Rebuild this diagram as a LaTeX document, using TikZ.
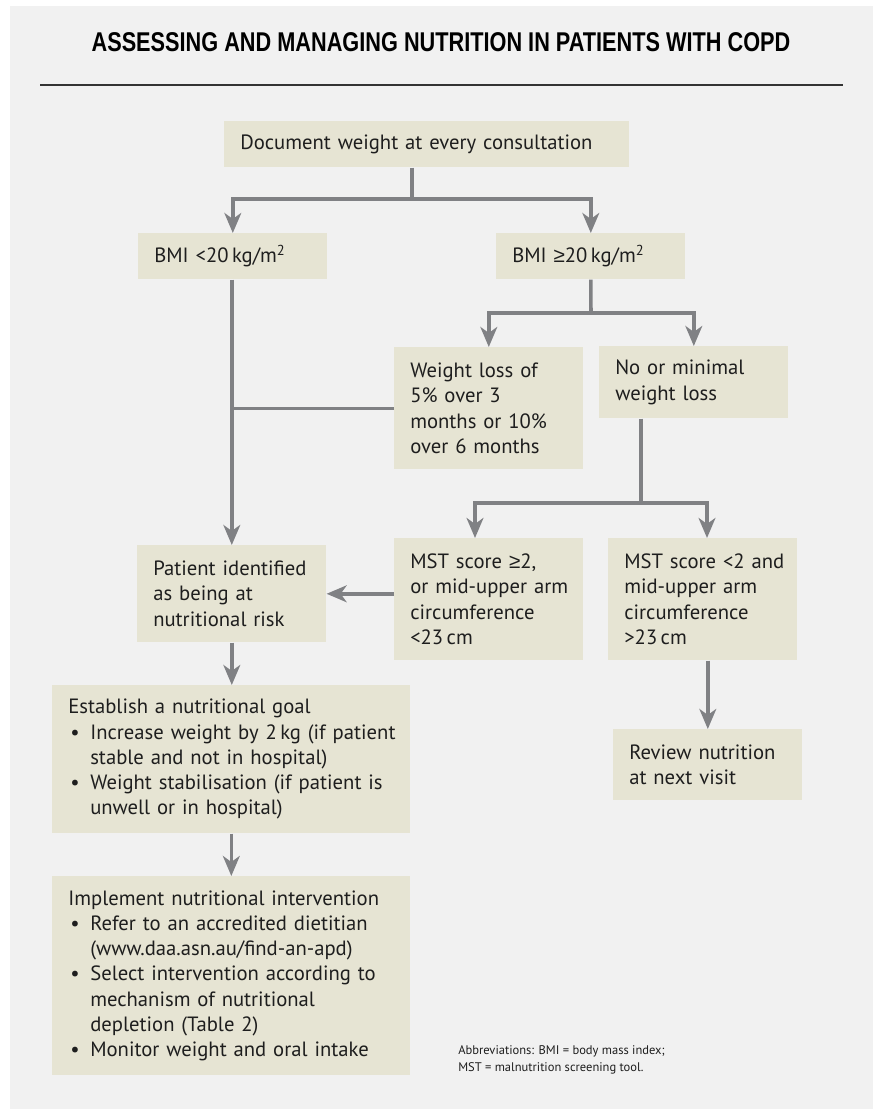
\documentclass[tikz,border=0pt]{standalone}
\usepackage{fontspec}
\setmainfont{PT Sans}
\newfontfamily\titlefont{Liberation Sans}[FakeStretch=0.8]
\newfontfamily\symfont{Liberation Sans}
\usetikzlibrary{arrows.meta}

\definecolor{panelgrey}{HTML}{F1F1F1}
\definecolor{boxfill}{HTML}{E6E4D3}
\definecolor{linkgrey}{HTML}{808184}
\definecolor{textdark}{HTML}{1E1E1E}
\definecolor{ruledark}{HTML}{333333}

\newcommand{\bul}{\makebox[0.55cm][l]{\hspace{1.5pt}\textbullet}}
\newcommand{\hang}{\hspace*{0.55cm}}
\newcommand{\geqs}{{\symfont ≥}}

\begin{document}
\begin{tikzpicture}[x=0.025cm,y=-0.025cm,
  box/.style={fill=boxfill,anchor=north west,align=left,inner xsep=0.4cm,
              inner ysep=0pt,font=\fontsize{14.7}{18}\selectfont,text=textdark},
  narrowbox/.style={box,text width=3.925cm},
  widebox/.style={box,text width=8.15cm},
  link/.style={draw=linkgrey,line width=2.5pt},
  arrow/.style={link,-{Stealth[length=0.5cm,width=0.42cm,inset=0.15cm]}},
  headline/.style={font=\titlefont\bfseries\fontsize{19.3}{22}\selectfont},
  note/.style={font=\fontsize{8.9}{12.5}\selectfont,align=left,
               anchor=north west,inner sep=0pt,text=textdark},
]
\useasboundingbox (0,0) rectangle (873,1109);
\fill[panelgrey] (10,6) rectangle (873,1109);

% === Heading ===
\node[headline] (title) at (441,42) {ASSESSING AND MANAGING NUTRITION IN PATIENTS WITH COPD};
\draw[ruledark,line width=1.4pt] (40,85) -- (843,85);

% === Boxes ===
\node[box,text width=9.325cm,minimum height=1.15cm] (doc) at (224,121)
  {Document weight at every consultation};

\node[narrowbox,minimum height=1.15cm] (bmilow) at (138,233) {BMI <20\,kg/m\textsuperscript{2}};
\node[narrowbox,minimum height=1.15cm] (bmihigh) at (496,233) {BMI \geqs20\,kg/m\textsuperscript{2}};

\node[narrowbox,minimum height=3.05cm] (wloss) at (394,347)
  {Weight loss of\\5\% over 3\\months or 10\%\\over 6 months};
\node[narrowbox,minimum height=1.8cm] (nomin) at (599,346) {No or minimal\\weight loss};

\node[narrowbox,minimum height=2.425cm] (patient) at (137,545)
  {\mbox{Patient identified}\\as being at\\nutritional risk};
\node[narrowbox,minimum height=3.05cm] (mstrisk) at (394,538)
  {\mbox{MST score \geqs2,}\\\mbox{or mid-upper arm}\\circumference\\<23\,cm};
\node[narrowbox,minimum height=3.05cm] (mstok) at (608,538)
  {\mbox{MST score <2 and}\\\mbox{mid-upper arm}\\circumference\\>23\,cm};

\node[narrowbox,minimum height=1.775cm] (review) at (613,729) {\mbox{Review nutrition}\\at next visit};

\node[widebox,minimum height=3.7cm] (goal) at (52,685)
  {Establish a nutritional goal\\
   \mbox{\bul Increase weight by 2\,kg (if patient}\\
   \hang stable and not in hospital)\\
   \mbox{\bul Weight stabilisation (if patient is}\\
   \hang unwell or in hospital)};

\node[widebox,minimum height=4.975cm] (impl) at (52,876)
  {\mbox{Implement nutritional intervention}\\
   \mbox{\bul Refer to an accredited dietitian}\\
   \hang (www.daa.asn.au/find-an-apd)\\
   \mbox{\bul Select intervention according to}\\
   \hang mechanism of nutritional\\
   \hang depletion (Table 2)\\
   \mbox{\bul Monitor weight and oral intake}};

\node[note] (abbr) at (458,1045)
  {Abbreviations: BMI = body mass index;\\MST = malnutrition screening tool.};

% === Connectors ===
\coordinate (split1) at (412,199);
\draw[link] (doc.south -| split1) -- (split1);
\draw[arrow] (split1) -| (bmilow);
\draw[arrow] (split1) -| (bmihigh);

\draw[arrow] (bmilow.south -| patient) -- (patient);
\draw[link] (wloss.west) -- (wloss.west -| patient);

\coordinate (split2) at (591,313);
\draw[link] (bmihigh) -- (split2);
\draw[arrow] (split2) -| (wloss);
\draw[arrow] (split2) -| (nomin);

\coordinate (split3) at (641,503);
\coordinate (toleft) at (475,503);
\coordinate (toright) at (707,503);
\draw[link] (nomin.south -| split3) -- (split3);
\draw[arrow] (split3) -- (toleft) -- (toleft |- mstrisk.north);
\draw[arrow] (split3) -- (toright) -- (toright |- mstok.north);

\draw[arrow] (mstrisk.west |- patient) -- (patient);
\draw[arrow] (patient) -- (patient |- goal.north);
\draw[arrow] (review |- mstok.south) -- (review);
\draw[arrow] (goal) -- (impl);

\end{tikzpicture}
\end{document}
